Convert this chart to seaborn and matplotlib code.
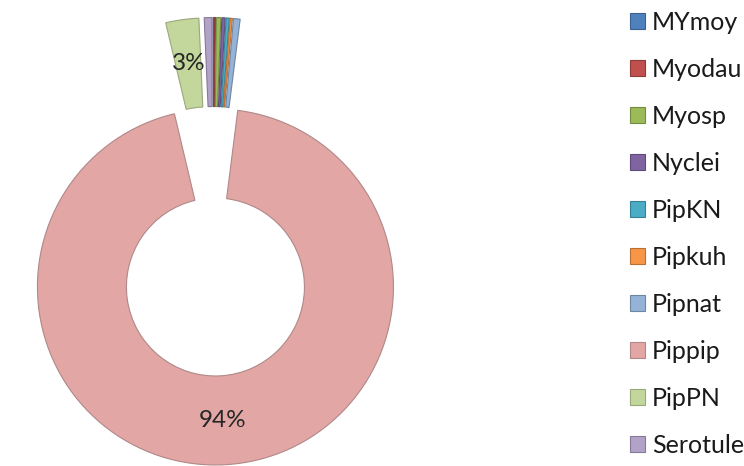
import matplotlib
matplotlib.use("Agg")
import matplotlib.pyplot as plt
import seaborn as sns

# Species share of recorded bat contacts
species = ["MYmoy", "Myodau", "Myosp", "Nyclei", "PipKN",
           "Pipkuh", "Pipnat", "Pippip", "PipPN", "Serotule"]
shares = [0.1, 0.1, 0.4, 0.3, 0.3, 0.2, 0.6, 94.3, 3.0, 0.7]
colors = ["#4F81BD", "#C0504D", "#9BBB59", "#8064A2", "#4BACC6",
          "#F79646", "#95B3D7", "#E2A6A5", "#C3D69B", "#B3A2C7"]
edges = ["#3a6191", "#8f3b39", "#738c42", "#5f4a79", "#388194",
         "#b97034", "#6f86a1", "#b08888", "#9aa97c", "#867995"]

sns.set_theme(style="white")
plt.rcParams["font.family"] = ["Lato", "DejaVu Sans"]

W, H = 744, 466
fig = plt.figure(figsize=(W / 100, H / 100), dpi=100)
ax = fig.add_axes([0, 0, 1, 1])

R_PX = 178.0
CX, CY = 213.0, 241.3

def pct_label(p):
    return f"{p:.0f}%" if p >= 2.5 else ""

wedges, texts, autotexts = ax.pie(
    shares,
    colors=colors,
    startangle=90,
    counterclock=False,
    explode=[0.257] * len(shares),
    radius=1.0,
    wedgeprops=dict(width=0.5, linewidth=0.8),
    autopct=pct_label,
    pctdistance=0.75,
    textprops=dict(fontsize=17.5, color="#262626"),
)
for w, ec in zip(wedges, edges):
    w.set_edgecolor(ec)

ax.set_xlim(-CX / R_PX, (W - CX) / R_PX)
ax.set_ylim(-(H - CY) / R_PX, CY / R_PX)
ax.axis("off")

leg = fig.legend(
    wedges, species,
    loc="upper left",
    bbox_to_anchor=(630 / W, 1 - 11 / H),
    frameon=False,
    fontsize=18,
    handlelength=0.6,
    handleheight=0.6,
    handletextpad=0.28,
    labelspacing=0.96,
    borderaxespad=0,
    borderpad=0,
)
for t in leg.get_texts():
    t.set_color("#1a1a1a")

fig.savefig("out.png", dpi=100)
